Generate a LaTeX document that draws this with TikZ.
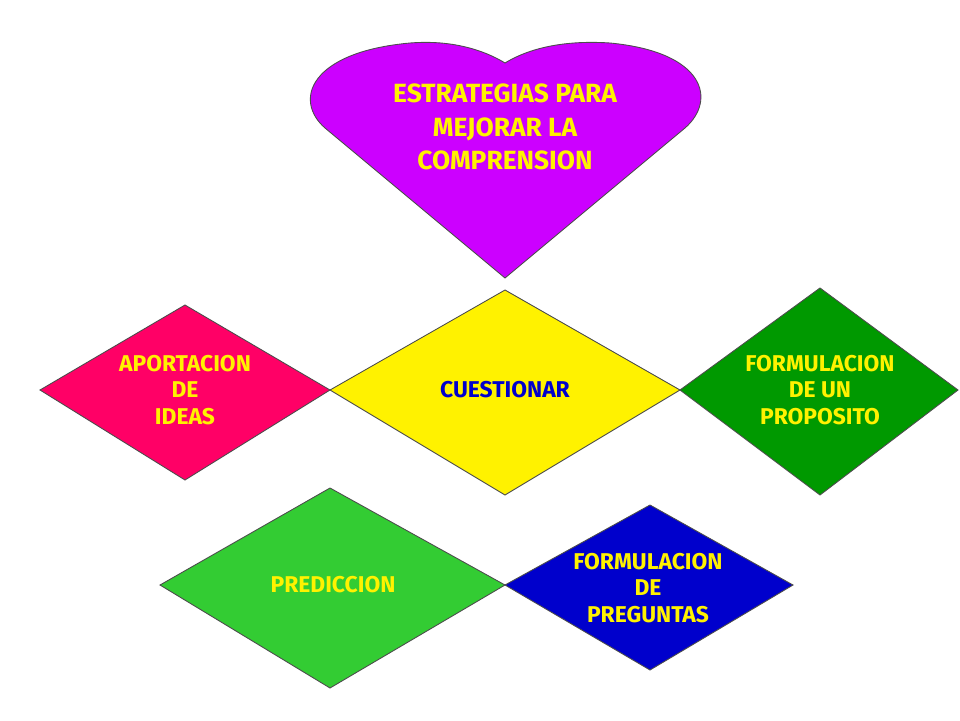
\documentclass[tikz,border=0pt]{standalone}
\usepackage{fontspec}
\setmainfont{Fira Sans}
\begin{document}
\begin{tikzpicture}[x=0.02cm,y=-0.02cm]
\tikzset{
  shp/.style={draw=black!70,line width=0.5pt},
  lbl/.style={font=\bfseries\fontsize{13}{15}\selectfont,text=yellow,align=center},
}
\useasboundingbox (0,0) rectangle (960,720);

%% heart
\draw[shp,fill={rgb,255:red,204;green,0;blue,255}] (505,278) -- (325,128)
  .. controls (293,100) and (310,52) .. (410,43)
  .. controls (460,39) and (492,55) .. (505,63)
  .. controls (518,55) and (550,39) .. (610,43)
  .. controls (705,52) and (717,100) .. (685,128) -- cycle;
\node[lbl,font=\bfseries\fontsize{15}{19}\selectfont] (strat) at (505,127) {ESTRATEGIAS PARA\\MEJORAR LA\\COMPRENSION};

%% diamonds
\draw[shp,fill={rgb,255:red,255;green,0;blue,102}] (40,390) -- (185,305) -- (330,390) -- (185,480) -- cycle;
\node[lbl] (apor) at (185,390) {APORTACION\\DE\\IDEAS};

\draw[shp,fill=yellow] (330,390) -- (505,290) -- (680,390) -- (505,495) -- cycle;
\node[lbl,text={rgb,255:red,0;green,0;blue,204}] (cuest) at (505,390) {CUESTIONAR};

\draw[shp,fill={rgb,255:red,0;green,153;blue,0}] (680,390) -- (820,288) -- (958,390) -- (820,495) -- cycle;
\node[lbl] (prop) at (820,390) {FORMULACION\\DE UN\\PROPOSITO};

\draw[shp,fill={rgb,255:red,51;green,204;blue,51}] (160,585) -- (330,488) -- (505,585) -- (330,688) -- cycle;
\node[lbl] (pred) at (333,585) {PREDICCION};

\draw[shp,fill={rgb,255:red,0;green,0;blue,204}] (505,585) -- (650,505) -- (793,585) -- (650,670) -- cycle;
\node[lbl] (preg) at (648,588) {FORMULACION\\DE\\PREGUNTAS};
\end{tikzpicture}
\end{document}
